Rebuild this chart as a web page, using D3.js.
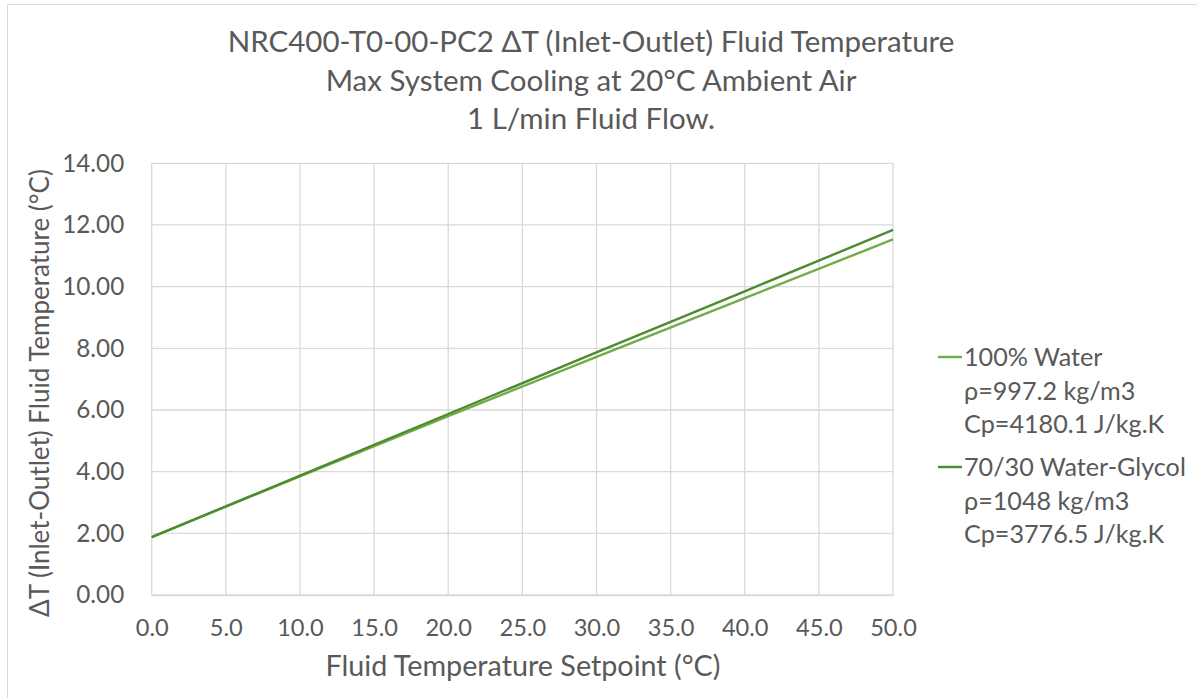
<!DOCTYPE html>
<html><head><meta charset="utf-8">
<script src="https://cdn.jsdelivr.net/npm/d3@7"></script>
<style>body{margin:0;background:#fff}svg{display:block}text{font-family:Lato,"Open Sans",sans-serif;fill:#595959}</style>
</head><body>
<svg id="c" width="1197" height="698"></svg>
<script>
const xSetpoints = [0, 10, 20, 30, 40, 50];
const water = [1.88, 3.85, 5.80, 7.72, 9.63, 11.53];
const glycol = [1.88, 3.87, 5.87, 7.87, 9.85, 11.84];
const xTicks = [0, 5, 10, 15, 20, 25, 30, 35, 40, 45, 50];
const yTicks = [0, 2, 4, 6, 8, 10, 12, 14];
const titleLines = ["NRC400-T0-00-PC2 ΔT (Inlet-Outlet) Fluid Temperature", "Max System Cooling at 20°C Ambient Air", "1 L/min Fluid Flow."];
const seriesNames = [["100% Water", "ρ=997.2 kg/m3", "Cp=4180.1 J/kg.K"], ["70/30 Water-Glycol", "ρ=1048 kg/m3", "Cp=3776.5 J/kg.K"]];
const colors = ["#70AD47", "#4E8A30"];

function fit(sel, target){
  const n = sel.node(); const fs = parseFloat(n.style.fontSize);
  const w = n.getComputedTextLength(); return fs * target / w;
}

const svg = d3.select("#c");
svg.append("rect").attr("x",7.5).attr("y",4.5).attr("width",1200).attr("height",700).attr("fill","none").attr("stroke","#d9d9d9");
const x = d3.scaleLinear().domain([0,50]).range([151.7,893]);
const y = d3.scaleLinear().domain([0,14]).range([595,163.3]);

const g = svg.append("g");
g.selectAll("line.h").data(yTicks).join("line").attr("x1",x(0)).attr("x2",x(50)).attr("y1",d=>y(d)).attr("y2",d=>y(d)).attr("stroke","#d9d9d9").attr("stroke-width",1.3);
g.selectAll("line.v").data(xTicks).join("line").attr("y1",y(0)).attr("y2",y(14)).attr("x1",d=>x(d)).attr("x2",d=>x(d)).attr("stroke","#d9d9d9").attr("stroke-width",1.3);

const xAxis = d3.axisBottom(x).tickValues(xTicks).tickFormat(d3.format(".1f")).tickSize(0).tickPadding(29);
const ga = svg.append("g").attr("transform",`translate(0,${y(0)})`).call(xAxis);
ga.select(".domain").attr("stroke","#d9d9d9").attr("stroke-width",1.3);
ga.selectAll("text").style("font-size","22px").attr("fill","#595959").attr("font-family",null);
const xs = fit(ga.selectAll("text").filter(d=>d===10), 46.7);
ga.selectAll("text").style("font-size",xs+"px").attr("dy","0.5em");
const yAxis = d3.axisLeft(y).tickValues(yTicks).tickFormat(d3.format(".2f")).tickSize(0).tickPadding(27.5);
const gy = svg.append("g").attr("transform",`translate(${x(0)},0)`).call(yAxis);
gy.select(".domain").remove();
gy.selectAll("text").style("font-size","22px").attr("fill","#595959").attr("font-family",null);
const ys = fit(gy.selectAll("text").filter(d=>d===14), 62);
gy.selectAll("text").style("font-size",ys+"px");

const line = d3.line().x((d,i)=>x(xSetpoints[i])).y(d=>y(d));
[water, glycol].forEach((s,i)=>{
  svg.append("path").datum(s).attr("d",line).attr("fill","none").attr("stroke",colors[i]).attr("stroke-width",2.4);
});

const tt = svg.selectAll("text.title").data(titleLines).join("text").attr("class","title").attr("x",591).attr("y",(d,i)=>52+i*38.5).attr("text-anchor","middle").style("font-size","26px").text(d=>d);
const ts = fit(tt.filter((d,i)=>i===0), 727);
tt.style("font-size",ts+"px");

const yt = svg.append("text").attr("transform","translate(49,393) rotate(-90)").attr("text-anchor","middle").style("font-size","22px").text("ΔT (Inlet-Outlet) Fluid Temperature (°C)");
const axs = fit(yt,448);
yt.style("font-size",axs+"px");
const xt = svg.append("text").attr("x",523).attr("y",676).attr("text-anchor","middle").style("font-size",axs+"px").text("Fluid Temperature Setpoint (°C)");
xt.style("font-size",fit(xt,395)+"px");

const legTexts = [];
seriesNames.forEach((lines,i)=>{
  const y0 = 357 + i*110;
  svg.append("line").attr("x1",938).attr("x2",962).attr("y1",y0).attr("y2",y0).attr("stroke",colors[i]).attr("stroke-width",2.4);
  lines.forEach((t,j)=>{
    legTexts.push(svg.append("text").attr("x",964).attr("y",y0+9+j*33.5).style("font-size","22px").text(t));
  });
});
const ls = fit(legTexts[3], 222);
legTexts.forEach(t=>t.style("font-size",ls+"px"));
</script>
</body></html>
